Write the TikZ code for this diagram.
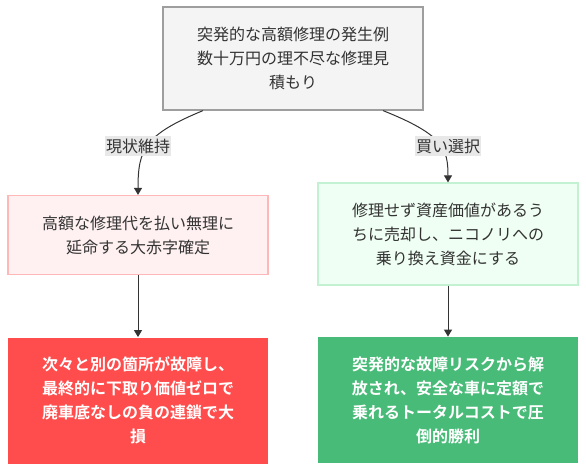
\documentclass[tikz,border=0pt]{standalone}
\usepackage{fontspec}
\setmainfont{Noto Sans CJK JP}[BoldFont={Noto Sans CJK JP Bold}]
\usetikzlibrary{positioning}
\usetikzlibrary{arrows.meta}

\definecolor{topfill}{HTML}{F4F4F4}
\definecolor{topline}{HTML}{9E9E9E}
\definecolor{pinkfill}{HTML}{FFF1F1}
\definecolor{pinkline}{HTML}{FFB8B8}
\definecolor{mintfill}{HTML}{F0FFF4}
\definecolor{mintline}{HTML}{C3F2D2}
\definecolor{badfill}{HTML}{FF4D4D}
\definecolor{goodfill}{HTML}{48BB78}
\definecolor{textgray}{HTML}{333333}
\definecolor{lblfill}{HTML}{E8E8E8}

\begin{document}
\begin{tikzpicture}[
    x=1pt, y=-1pt,
    box/.style={draw, line width=1.2pt, inner sep=0pt, align=center,
        text width=200pt, text=textgray, font=\fontsize{16}{24}\selectfont},
    topbox/.style={box, fill=topfill, draw=topline, minimum width=260pt, minimum height=103pt},
    pinkbox/.style={box, fill=pinkfill, draw=pinkline, minimum width=260pt, minimum height=79pt},
    mintbox/.style={box, fill=mintfill, draw=mintline, minimum width=260pt, minimum height=102pt},
    endbox/.style={box, draw=none, text=white, font=\fontsize{16}{24}\selectfont\bfseries,
        minimum width=260pt, minimum height=126pt},
    edge/.style={draw=textgray, line width=1pt, -{Triangle[length=7pt,width=8pt]}},
    lbl/.style={fill=lblfill, text=textgray, inner xsep=1pt, inner ysep=3pt,
        font=\fontsize{16}{20}\selectfont}
]
\useasboundingbox (0,0) rectangle (586,470);

\node[topbox] (start) at (293,58.5) {突発的な高額修理の発生例\\数十万円の理不尽な修理見\\積もり};
\node[pinkbox] (keep) at (138,235) {高額な修理代を払い無理に\\延命する大赤字確定};
\node[mintbox] (sell) at (448,234) {修理せず資産価値があるう\\ちに売却し、ニコノリへの\\乗り換え資金にする};
\node[endbox, fill=badfill, below=62pt of keep] (loss) {次々と別の箇所が故障し、\\最終的に下取り価値ゼロで\\廃車底なしの負の連鎖で大\\損};
\node[endbox, fill=goodfill, below=51pt of sell] (win) {突発的な故障リスクから解\\放され、安全な車に定額で\\乗れるトータルコストで圧\\倒的勝利};

% Branches
\draw[edge] ([xshift=-90pt]start.south) .. controls +(-58,24) and +(0,-46) .. (keep.north);
\draw[edge] ([xshift=90pt]start.south) .. controls +(60,24) and +(0,-34) .. (sell.north);
\node[lbl] (keepLbl) at (138,146) {現状維持};
\node[lbl] (sellLbl) at (448,146) {買い選択};

% Outcomes
\draw[edge] (keep) -- (loss);
\draw[edge] (sell) -- (win);
\end{tikzpicture}
\end{document}
